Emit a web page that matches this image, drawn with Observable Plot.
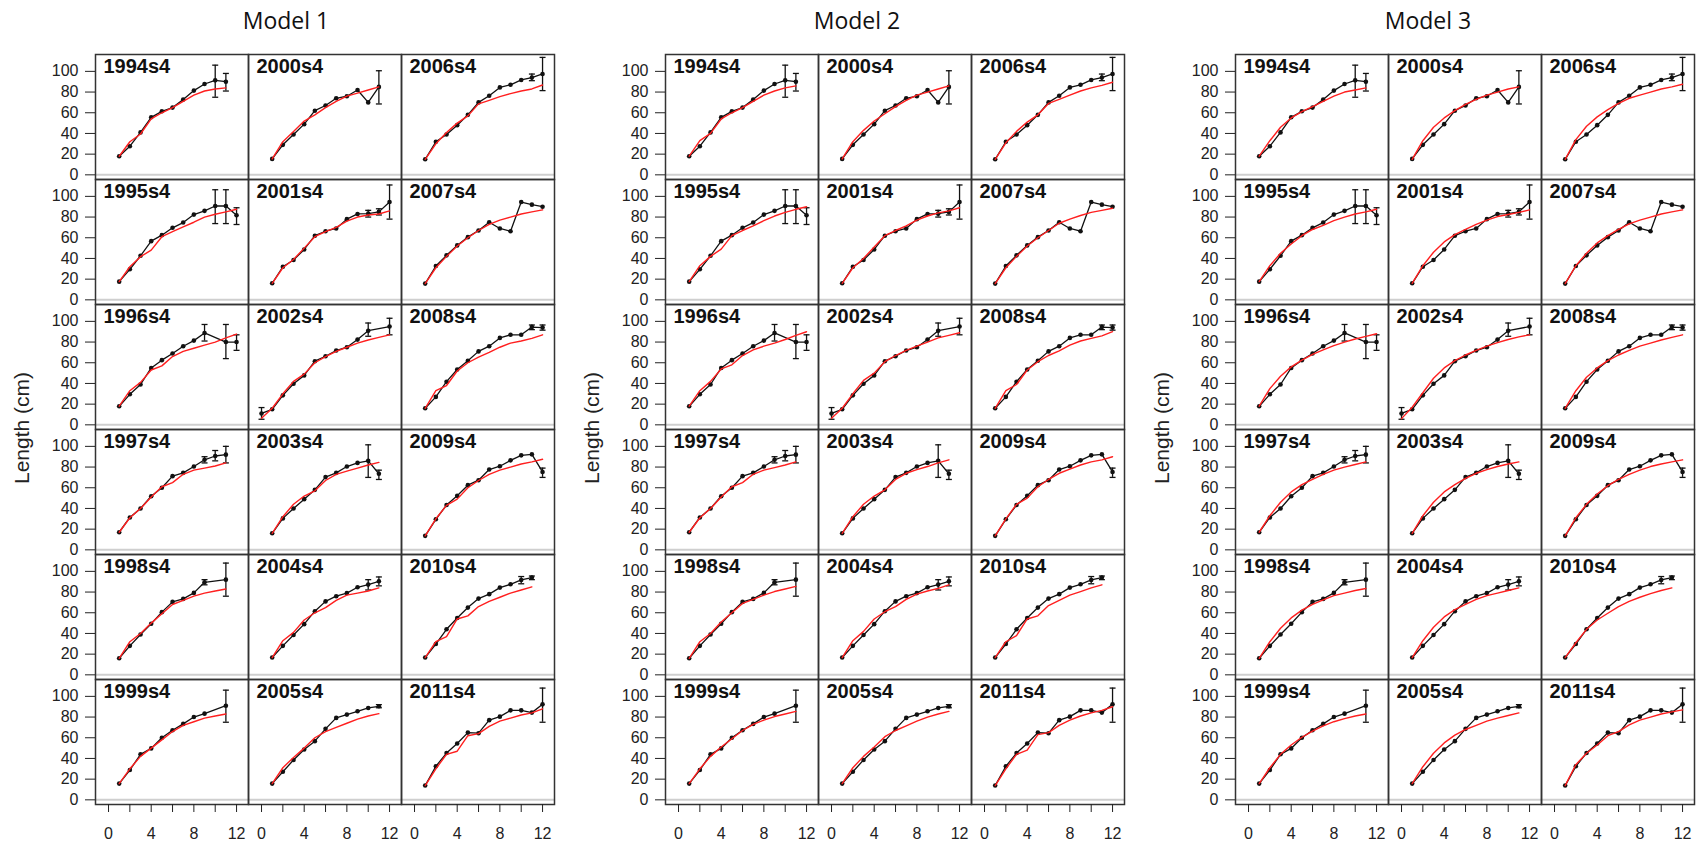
<!DOCTYPE html>
<html>
<head>
<meta charset="utf-8">
<script src="https://cdn.jsdelivr.net/npm/d3@7"></script>
<script src="https://cdn.jsdelivr.net/npm/@observablehq/plot@0.6"></script>
<style>
  body { margin: 0; background: #fff; }
  #fig { position: relative; width: 1704px; height: 846px; background: #fff; overflow: hidden; }
  .title { position: absolute; top: 4px; transform: translateX(-50%); font-family: "Open Sans", sans-serif; font-size: 23px; color: #111; white-space: nowrap; }
  .ylab { position: absolute; transform: translate(-50%, -50%) rotate(-90deg); font-family: "Liberation Sans", Arial, sans-serif; font-size: 21px; color: #222; white-space: nowrap; }
  .panel { position: absolute; top: 0; }
</style>
</head>
<body>
<div id="fig"></div>
<script>
// ---------- data ----------
const modelTitles = ["Model 1", "Model 2", "Model 3"];
const yAxisLabel = "Length (cm)";
const panelLabels = ["1994s4","1995s4","1996s4","1997s4","1998s4","1999s4",
                     "2000s4","2001s4","2002s4","2003s4","2004s4","2005s4",
                     "2006s4","2007s4","2008s4","2009s4","2010s4","2011s4"];
const xTicks = [0, 2, 4, 6, 8, 10, 12];
const yTicks = [0, 20, 40, 60, 80, 100];

// observed mean length at age 0..12 (null = no observation)
const obsLength = [
  [null,18,27.7,41,55.6,61.4,65,72.7,81.4,87.8,91.3,90,null],        // 1994
  [null,17.6,29.5,42.6,56.7,62.5,69.6,74.7,82.4,86,90.7,90.7,81.7],  // 1995
  [null,17.9,29.5,39,55,62.5,69,76,81.4,88.8,null,80,80],            // 1996
  [null,17,31.3,40,51.8,60,71.2,74.4,80.5,87,90.7,92,null],          // 1997
  [null,16,28,39,49.4,60.6,70.5,73.4,79.2,89.4,null,92,null],        // 1998
  [null,15.7,28.8,44,49.7,60,67.3,73.4,80,83.3,null,91,null],        // 1999
  [null,15.4,29,39,49,62,67,74,76,82,70,85,null],                    // 2000
  [null,16,32,38.5,48.7,62,66.3,69,78,83,83.3,85,94.6],              // 2001
  [11,15,28.5,39.7,47.8,61.5,66.3,71.8,75,82.4,91,null,95],          // 2002
  [null,16,30.4,40,49,58,70.3,74.4,80.5,84,86,73.5,null],            // 2003
  [null,16.7,28,38.5,49,61.5,71,76,79,84.6,87.2,90.4,null],          // 2004
  [null,15.7,27.2,38.5,48.7,56.7,68.6,79.2,82.4,85.6,88.8,90.4,null],// 2005
  [null,15,32,39,48,58,70,76.5,84.5,87,91.7,94,97.5],                // 2006
  [null,15.7,32.7,43,52.6,60.6,67,75,69,66.3,94.5,92,90],            // 2007
  [null,16,27,41.7,53.5,62,71,76,84,87,87,94.5,94],                  // 2008
  [null,13.5,29.5,43.3,52.2,62.5,67.3,77.6,80.8,86.5,91.3,92.3,75.3],// 2009
  [null,16.7,29.8,44,55,65,73.7,78,84.3,87.5,91.7,94,null],          // 2010
  [null,13.8,32.4,45.2,54.5,65,64.4,77,80.4,86.5,86.5,84.3,92.3]     // 2011
];

// error bars: [panel, age, low, high]
const errorBars = [
  ["1994s4",10,75,106],["1994s4",11,81,98],
  ["2000s4",11,68.5,100.6],
  ["2006s4",11,91,97.4],["2006s4",12,81.4,113.5],
  ["1995s4",10,73.7,106.4],["1995s4",11,73.7,106.4],["1995s4",12,72.8,89],
  ["2001s4",10,80,86.5],["2001s4",11,82,88],["2001s4",12,78,111],
  ["1996s4",9,81,97],["1996s4",11,64,97],["1996s4",12,72,87],
  ["2002s4",0,5.4,16.7],["2002s4",10,85.6,98.4],["2002s4",12,87,103],
  ["2008s4",11,92,96.5],["2008s4",12,91.5,96.5],
  ["1997s4",9,84,90],["1997s4",10,86,96],["1997s4",11,84,100],
  ["2003s4",10,70,101.5],["2003s4",11,68,77],
  ["2009s4",12,70,79],
  ["1998s4",9,87,92],["1998s4",11,76,108],
  ["2004s4",10,82,92],["2004s4",11,86,94.6],
  ["2010s4",10,88,95],["2010s4",11,92,95.5],
  ["1999s4",11,75,106],
  ["2005s4",11,89,92],
  ["2011s4",12,75,108]
];

// fitted length at age (from the first observed age onward), per model
const fitModel1 = [
  [18,32,39.5,54,60,65,71,77,81,83,84],
  [17.6,32,41.7,48,61,66,70.5,75,80,82.7,85,87.5],
  [18,33,41,53,57,66,71,74,77,80,84,87.7],
  [17,31,40,51,61,65,73,77,79,81,84],
  [16,32,40,50,59,68,72,76,79,81,83],
  [15.7,30,42,50,58,66,72,75.5,79,81,83],
  [15.4,32,42,52,58,65,71,76,79,82,85],
  [16,31,39,50,61,66,70,76,80,82,83,86],
  [6.4,16,30,42,49,60,66,71,75,79,82,84.5,87],
  [16,32,44,52,57,67,73,76,79,82,84.5],
  [16.7,33,41,53,60,65,72,77,79,81,84],
  [15.7,31,41,50,60,66,70,74,78,81,83.3],
  [15,30,41,50,57,68.6,72,75.6,78.5,81,83,86.8],
  [15.7,31,42,52,60,67,73,77,80,83,85,87],
  [16,33,38,52,60,65.5,70,75,79,81,83.5,87],
  [13.5,30,43,49,60,67,73,77,80,83,85,87.5],
  [16.7,32,37,54,57,66,71,75,79,82,85],
  [13.8,30,44,47,62,64,71,76,79,82,84,88]
];
const fitModel2 = [
  [18,33,40,54,60,65,71,77,81,84,86],
  [17.6,33,42,49,62,67,71.5,76.5,81,84.5,87.5,90],
  [18,33,42,54,58,67,72.5,76,79,82.5,86.5,90],
  [17,31,40,51,61,65,73,77,79.5,82,85],
  [16,32,40,51,60,69,73,77,80.5,83,85.5],
  [15.7,30,42,51,59,67,73,77,80.5,83,85.5],
  [15.4,32,43,52,59,66,72,77,80,83,86],
  [16,31,40,51,62,67,71.5,77,81,84,86,89],
  [6.4,16,30,43,50,61,67,72,76,80,84,86.5,89],
  [16,32,44,52,58,68,74,77.5,80.5,84,87],
  [16.7,33,42,54,61,66,73,78,81,83.5,87],
  [15.7,31,42,51,61,67,71.5,76,80,83,85.5],
  [15,31,42,51,58,69,73,77,81,84,86.5,89.5],
  [15.7,31,42,52,60,67,74,78,81.5,84.5,86.5,88.5],
  [16,33,39,53,61,67,71.5,77,81,83.5,86,90],
  [13.5,30,44,50,61,68,74,78,82,85,87,90],
  [16.7,32,38,54,57,67,72,77,80.5,84,87],
  [13.8,30,44,48,63,65,72,77,81,84,86.5,90]
];
const fitModel3 = [
  [18,33,46,55,61,66,71,76,80,82,84],
  [17.6,33,45,54,62,68,72,76.5,80,83,85,87.5],
  [18,35,47,56,62.5,68,72.5,76.5,80,83,85.5,88],
  [17,33,46,56,63,68,73,77,80,82.5,85],
  [16,32,45,55,62.5,68,72.5,76.5,79,81.5,83.5],
  [15.7,31,44,53,60.5,66.5,71.5,75.5,78.5,81,83],
  [15,33,46,55,62,68,73,77,80,83,85],
  [16,33,46,56,63,68,73,77,80.5,82.5,84.5,87],
  [6,17,31,45,55,62,67.5,72,76,79.5,82.5,85,87],
  [16,33,46,56,63,69,74,77.5,80.5,83,85],
  [16.7,33,46,56,63,68,73,76.5,79,81.5,84],
  [15.7,32,45,55,62.5,68,72,76,79,81.5,84],
  [15,34,47,56,63,69,74,77,80,83,85,87.5],
  [15.7,33,45,55,62,68,73.5,77,80,83,85,87],
  [16,33,46,55,62,67.5,72,76,79,82,84.5,87],
  [13.5,31,44,54,62,68,73,77,80.5,83,85,87],
  [16.7,31,44,53,59.5,66,71,75,78.5,81.5,84],
  [13.8,34,45,53,62,66,72.5,77,80,83,85,87]
];
const fits = [fitModel1, fitModel2, fitModel3];

// ---------- build records ----------
const panelPos = i => ({row: i % 6, col: Math.floor(i / 6)});
const panels = panelLabels.map((lab, i) => ({lab, ...panelPos(i)}));
const obs = panelLabels.flatMap((lab, i) =>
  obsLength[i].map((v, a) => v == null ? null : {lab, ...panelPos(i), age: a, len: v}).filter(Boolean));
const errs = errorBars.map(([lab, age, lo, hi]) => ({lab, ...panelPos(panelLabels.indexOf(lab)), age, lo, hi}));
const caps = errs.flatMap(e => [{...e, len: e.lo}, {...e, len: e.hi}]);
const fitRecords = fit => panelLabels.flatMap((lab, i) => {
  const a0 = obsLength[i].findIndex(v => v != null);
  return fit[i].map((v, k) => ({lab, ...panelPos(i), age: a0 + k, len: v}));
});

const capSymbol = { draw(ctx) { ctx.moveTo(-3, 0); ctx.lineTo(3, 0); } };
const FONT = "'Liberation Sans', Arial, Helvetica, sans-serif";

function makeModel(fit) {
  const fitted = fitRecords(fit);
  return Plot.plot({
    width: 559, height: 846,
    marginLeft: 95, marginRight: 5, marginTop: 52, marginBottom: 40,
    fx: {domain: [0, 1, 2], padding: 0, axis: null},
    fy: {domain: [0, 1, 2, 3, 4, 5], padding: 0, axis: null},
    x: {domain: [-1.22, 13.12]},
    y: {domain: [-4.5, 116.3]},
    style: {fontFamily: FONT, fontSize: "16px", color: "#222", background: "transparent", overflow: "visible"},
    marks: [
      Plot.ruleY([0], {stroke: "#cfcfcf", strokeWidth: 2}),
      Plot.line(obs, {x: "age", y: "len", fx: "col", fy: "row", z: "lab", stroke: "#111", strokeWidth: 1.3}),
      Plot.ruleX(errs, {x: "age", y1: "lo", y2: "hi", fx: "col", fy: "row", stroke: "#111", strokeWidth: 1.3}),
      Plot.dot(caps, {x: "age", y: "len", fx: "col", fy: "row", symbol: capSymbol, r: 3, stroke: "#111", fill: "none", strokeWidth: 1.3}),
      Plot.dot(obs, {x: "age", y: "len", fx: "col", fy: "row", r: 2.3, fill: "#111", stroke: "none"}),
      Plot.line(fitted, {x: "age", y: "len", fx: "col", fy: "row", z: "lab", stroke: "#ff1f1f", strokeWidth: 1.4}),
      Plot.text(panels, {text: "lab", fx: "col", fy: "row", frameAnchor: "top-left", textAnchor: "start", lineAnchor: "top",
                         dx: 8, dy: 4, fontSize: 20, fontWeight: "bold", fill: "#111", fontFamily: FONT}),
      Plot.frame({stroke: "#333", strokeWidth: 1.5}),
      Plot.axisY({ticks: yTicks, tickSize: 10, tickPadding: 7, anchor: "left", label: null, fontSize: 16}),
      Plot.axisX({ticks: xTicks, tickFormat: d => d % 4 === 0 ? String(d) : "", tickSize: 8, tickPadding: 15, anchor: "bottom", label: null, fontSize: 16})
    ]
  });
}

const fig = document.getElementById("fig");
modelTitles.forEach((t, i) => {
  const holder = document.createElement("div");
  holder.className = "panel";
  holder.style.left = (570 * i) + "px";
  holder.appendChild(makeModel(fits[i]));
  fig.appendChild(holder);

  const title = document.createElement("div");
  title.className = "title";
  title.style.left = (286 + 571 * i) + "px";
  title.textContent = t;
  fig.appendChild(title);

  const yl = document.createElement("div");
  yl.className = "ylab";
  yl.style.left = (22 + 570 * i) + "px";
  yl.style.top = "428px";
  yl.textContent = yAxisLabel;
  fig.appendChild(yl);
});
</script>
</body>
</html>
